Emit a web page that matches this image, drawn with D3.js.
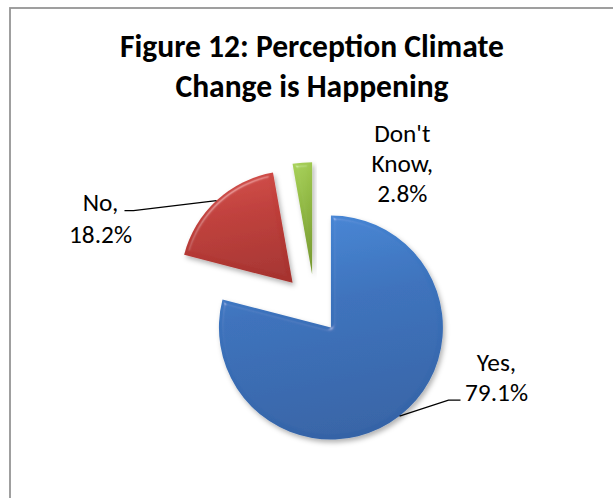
<!DOCTYPE html>
<html><head><meta charset="utf-8">
<script src="https://cdn.jsdelivr.net/npm/d3@7"></script>
<style>html,body{margin:0;padding:0;background:#fff;} svg{display:block;}</style>
</head><body>
<svg id="chart" width="613" height="498"></svg>
<script>
// ---- data ----
const categories = ["Yes", "No", "Don't Know"];
const values = [79.1, 18.2, 2.8];
const titleLines = ["Figure 12: Perception Climate", "Change is Happening"];
const sliceColors = ["#3b72bc", "#bf3e3a", "#92ba45"];
const sliceLight = ["#4787d6", "#d34e49", "#a6cf57"];
const sliceDark = ["#3563a6", "#a7332f", "#799c33"];

// ---- layout / style ----
const W = 613, H = 498;
const cx = 315, cy = 307, radius = 112;
const explode = [26, 33, 33];
const fontFamily = "Calibri, Carlito, Lato, 'Noto Sans', sans-serif";

const svg = d3.select("#chart");
svg.append("rect").attr("width", W).attr("height", H).attr("fill", "#fff");
svg.append("rect").attr("x", 10).attr("y", 8).attr("width", 700).attr("height", 600)
  .attr("fill", "none").attr("stroke", "#959595").attr("stroke-width", 1.8);

const defs = svg.append("defs");
sliceColors.forEach((c, i) => {
  const g = defs.append("linearGradient").attr("id", "g" + i)
    .attr("x1", 0.3).attr("y1", 0).attr("x2", 0.5).attr("y2", 1);
  g.append("stop").attr("offset", "0%").attr("stop-color", sliceLight[i]);
  g.append("stop").attr("offset", "40%").attr("stop-color", c);
  g.append("stop").attr("offset", "100%").attr("stop-color", sliceDark[i]);
});
const f = defs.append("filter").attr("id", "bevel")
  .attr("x", "-20%").attr("y", "-20%").attr("width", "140%").attr("height", "140%");
f.append("feGaussianBlur").attr("in", "SourceAlpha").attr("stdDeviation", 2).attr("result", "b");
const sp = f.append("feSpecularLighting").attr("in", "b").attr("surfaceScale", 2.5)
  .attr("specularConstant", 0.6).attr("specularExponent", 60).attr("lighting-color", "#ffffff").attr("result", "s");
sp.append("feDistantLight").attr("azimuth", 235).attr("elevation", 50);
f.append("feComposite").attr("in", "s").attr("in2", "SourceAlpha").attr("operator", "in").attr("result", "s2");
f.append("feComposite").attr("in", "SourceGraphic").attr("in2", "s2").attr("operator", "arithmetic")
  .attr("k1", 0).attr("k2", 1).attr("k3", 0.35).attr("k4", 0).attr("result", "lit");
f.append("feGaussianBlur").attr("in", "SourceAlpha").attr("stdDeviation", 2.5).attr("result", "sb");
f.append("feOffset").attr("in", "sb").attr("dx", 1.5).attr("dy", 2.5).attr("result", "so");
f.append("feFlood").attr("flood-color", "#000").attr("flood-opacity", 0.3).attr("result", "fl");
f.append("feComposite").attr("in", "fl").attr("in2", "so").attr("operator", "in").attr("result", "shadow");
const m = f.append("feMerge");
m.append("feMergeNode").attr("in", "shadow");
m.append("feMergeNode").attr("in", "lit");

// ---- title ----
function fitSize(text, weight, targetW) {
  const t = svg.append("text").attr("font-family", fontFamily).attr("font-weight", weight)
    .attr("font-size", 100).text(text);
  const w = t.node().getComputedTextLength();
  t.remove();
  return 100 * targetW / w;
}
const titleSize = fitSize(titleLines[0], "bold", 384);
const titleBase = [57, 97];
svg.append("g").selectAll("text").data(titleLines).join("text")
  .attr("x", 312).attr("y", (d, i) => titleBase[i])
  .attr("text-anchor", "middle").attr("font-family", fontFamily).attr("font-weight", "bold")
  .attr("font-size", titleSize).attr("fill", "#000").text(d => d);

// ---- pie ----
const data = categories.map((c, i) => ({ cat: c, value: values[i], i }));
const pie = d3.pie().sort(null).value(d => d.value).startAngle(0).endAngle(2 * Math.PI);
const arcs = pie(data);
const arc = d3.arc().innerRadius(0).outerRadius(radius);
const mid = a => (a.startAngle + a.endAngle) / 2;
const offset = a => { const t = mid(a), e = explode[a.data.i]; return [e * Math.sin(t), -e * Math.cos(t)]; };

const pg = svg.append("g").attr("transform", `translate(${cx},${cy})`);
pg.selectAll("path").data(arcs).join("path")
  .attr("transform", a => `translate(${offset(a)})`)
  .attr("d", arc)
  .attr("fill", a => `url(#g${a.data.i})`)
  .attr("filter", "url(#bevel)");

// ---- labels ----
const labelSize = fitSize("79.1%", "normal", 63);
// per-slice label placement relative to the slice's outer mid point
const labelOpts = [
  { tx: 97, ty: -39, gap: 30, leader: [[49, -16], [61, -16]] },
  { tx: -116, ty: 18, gap: 32, leader: [[-83, 10], [-92, 10]] },
  { tx: 100, ty: 1, gap: 30, leader: null }
];
const lg = pg.append("g");
arcs.forEach(a => {
  const [ox, oy] = offset(a);
  const t = mid(a);
  const px = ox + radius * Math.sin(t), py = oy - radius * Math.cos(t);
  const o = labelOpts[a.data.i];
  const words = a.data.cat.split(" ");
  words[words.length - 1] += ",";
  const lines = words.concat([d3.format(".1f")(a.data.value) + "%"]);
  if (o.leader) {
    const pts = [[px, py]].concat(o.leader.map(p => [px + p[0], py + p[1]]));
    lg.append("path").attr("d", d3.line()(pts)).attr("fill", "none")
      .attr("stroke", "#000").attr("stroke-width", 1.3);
  }
  const n = lines.length;
  lg.append("g").selectAll("text").data(lines).join("text")
    .attr("x", px + o.tx)
    .attr("y", (d, k) => py + o.ty + (k - (n - 1) / 2) * o.gap + labelSize * 0.35)
    .attr("text-anchor", "middle").attr("font-family", fontFamily)
    .attr("font-size", labelSize).attr("fill", "#000").text(d => d);
});
</script>
</body></html>
